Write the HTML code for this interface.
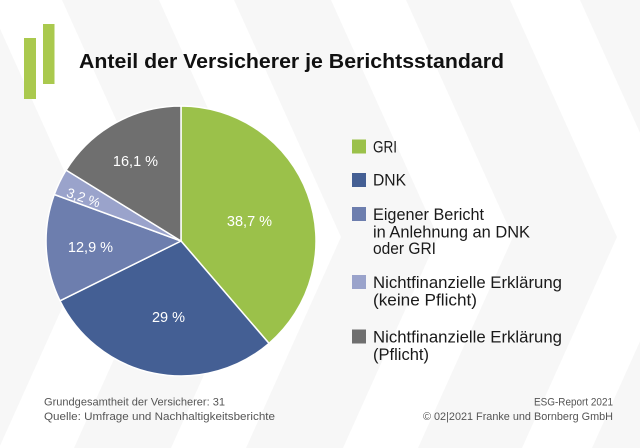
<!DOCTYPE html>
<html>
<head>
<meta charset="utf-8">
<style>
  html, body { margin: 0; padding: 0; background: #f7f7f7; width: 640px; height: 448px; overflow: hidden; }
  svg { display: block; }
  text { font-family: "Liberation Sans", Arial, sans-serif; }
</style>
</head>
<body>
<svg width="640" height="448" viewBox="0 0 640 448" xmlns="http://www.w3.org/2000/svg">
  <!-- background -->
  <rect x="0" y="0" width="640" height="448" fill="#f7f7f7"/>
  <g fill="#ffffff">
    <polygon points="-13,0 62,0 169,237 74,448 -1,448 94,237"/>
    <polygon points="159,0 234,0 341,237 246,448 171,448 266,237"/>
    <polygon points="331,0 406,0 513,237 418,448 343,448 438,237"/>
    <polygon points="510,0 580,0 687,237 592,448 522,448 617,237"/>
  </g>

  <!-- logo bars -->
  <rect x="24" y="38" width="12" height="61" fill="#aac94e"/>
  <rect x="43" y="24" width="11.5" height="60" fill="#aac94e"/>

  <!-- title -->
  <text x="79" y="68" font-size="20" font-weight="bold" fill="#111111" textLength="425" lengthAdjust="spacingAndGlyphs">Anteil der Versicherer je Berichtsstandard</text>

  <!-- pie -->
  <g stroke="#ffffff" stroke-width="1.5" stroke-linejoin="round">
    <path d="M181,241 L181,106 A135,135 0 0 1 269.0,343.4 Z" fill="#9bc14a"/>
    <path d="M181,241 L269.0,343.4 A135,135 0 0 1 60.0,300.8 Z" fill="#445f94"/>
    <path d="M181,241 L60.0,300.8 A135,135 0 0 1 54.3,194.5 Z" fill="#6d7eae"/>
    <path d="M181,241 L54.3,194.5 A135,135 0 0 1 66.1,170.1 Z" fill="#9aa3cb"/>
    <path d="M181,241 L66.1,170.1 A135,135 0 0 1 181,106 Z" fill="#6f6f6f"/>
  </g>

  <!-- pie labels -->
  <g fill="#ffffff" font-size="14.5" text-anchor="middle">
    <text x="249.5" y="226">38,7 %</text>
    <text x="168.5" y="322">29 %</text>
    <text x="90.5" y="252">12,9 %</text>
    <text x="135.5" y="166">16,1 %</text>
    <text x="82" y="202" font-size="13.5" transform="rotate(19 82 202)">3,2 %</text>
  </g>

  <!-- legend -->
  <rect x="352" y="139.5" width="14" height="14" fill="#9bc14a"/>
  <rect x="352" y="173" width="14" height="14" fill="#445f94"/>
  <rect x="352" y="207" width="14" height="14" fill="#6d7eae"/>
  <rect x="352" y="275" width="14" height="14" fill="#9aa3cb"/>
  <rect x="352" y="329.5" width="14" height="14" fill="#6f6f6f"/>

  <g fill="#1a1a1a" font-size="16.5">
    <text x="373" y="152.3" textLength="24" lengthAdjust="spacingAndGlyphs">GRI</text>
    <text x="373" y="185.7" textLength="33" lengthAdjust="spacingAndGlyphs">DNK</text>
    <text x="373" y="220" textLength="111" lengthAdjust="spacingAndGlyphs">Eigener Bericht</text>
    <text x="373" y="237.3" textLength="157" lengthAdjust="spacingAndGlyphs">in Anlehnung an DNK</text>
    <text x="373" y="254" textLength="63" lengthAdjust="spacingAndGlyphs">oder GRI</text>
    <text x="373" y="288" textLength="189" lengthAdjust="spacingAndGlyphs">Nichtfinanzielle Erklärung</text>
    <text x="373" y="305.5" textLength="104" lengthAdjust="spacingAndGlyphs">(keine Pflicht)</text>
    <text x="373" y="342.7" textLength="189" lengthAdjust="spacingAndGlyphs">Nichtfinanzielle Erklärung</text>
    <text x="373" y="360" textLength="56" lengthAdjust="spacingAndGlyphs">(Pflicht)</text>
  </g>

  <!-- footer -->
  <g fill="#555555" font-size="11">
    <text x="44" y="405.5" textLength="181" lengthAdjust="spacingAndGlyphs">Grundgesamtheit der Versicherer: 31</text>
    <text x="44" y="420" textLength="231" lengthAdjust="spacingAndGlyphs">Quelle: Umfrage und Nachhaltigkeitsberichte</text>
    <text x="534" y="405.5" textLength="79" lengthAdjust="spacingAndGlyphs">ESG-Report 2021</text>
    <text x="423" y="420" textLength="190" lengthAdjust="spacingAndGlyphs">© 02|2021 Franke und Bornberg GmbH</text>
  </g>
</svg>
</body>
</html>
